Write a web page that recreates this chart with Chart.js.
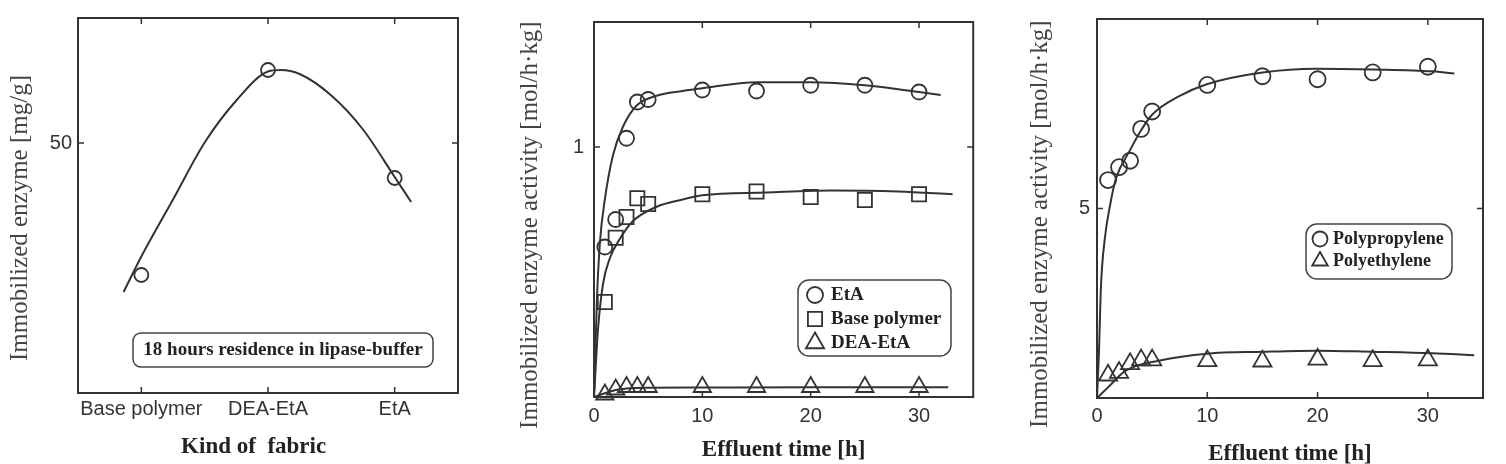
<!DOCTYPE html>
<html>
<head>
<meta charset="utf-8">
<script src="https://cdn.jsdelivr.net/npm/chart.js@4.4.1/dist/chart.umd.min.js"></script>
<style>
  html, body { margin: 0; padding: 0; background: #fff; }
  body { width: 1506px; height: 464px; position: relative; overflow: hidden; }
  canvas { position: absolute; top: 0; }
  #graphique-fibre { left: 0; }
  #graphique-eta { left: 470px; }
  #graphique-pp { left: 985px; }
</style>
</head>
<body>
<canvas id="graphique-fibre" width="470" height="464"></canvas>
<canvas id="graphique-eta" width="515" height="464"></canvas>
<canvas id="graphique-pp" width="521" height="464"></canvas>
<script>
/* global Chart */
//**DONNEES */

// Panneau 1 : enzyme immobilisée selon le type de tissu
const fabrics = ["Base polymer", "DEA-EtA", "EtA"];
const immobilized = [23.6, 64.6, 43.0];
const fabricYTicks = [50];
// courbe tracée à la main sur la figure (points relevés)
const fabricFitX = [-0.14, 0, 0.25, 0.5, 0.75, 1.0, 1.1, 1.25, 1.5, 1.75, 2.0, 2.13];
const fabricFitY = [20.2, 27.3, 38.7, 50.1, 58.5, 64.3, 64.6, 63.8, 59.5, 52.7, 43.2, 38.2];

// Panneau 2 : activité selon le temps d'écoulement
const time = [1, 2, 3, 4, 5, 10, 15, 20, 25, 30];
const fabricSeries = ["EtA", "Base polymer", "DEA-EtA"];
const etaActivity = [0.60, 0.71, 1.035, 1.18, 1.19, 1.228, 1.224, 1.247, 1.247, 1.22];
const baseActivity = [0.38, 0.637, 0.72, 0.795, 0.772, 0.811, 0.822, 0.80, 0.788, 0.811];
const deaActivity = [0.01, 0.03, 0.04, 0.04, 0.04, 0.04, 0.04, 0.04, 0.04, 0.04];
const etaFitX = [0, 0.28, 0.55, 1.0, 1.74, 2.66, 3.94, 5.78, 8.17, 10, 15, 20, 25, 30, 32];
const etaFitY = [0, 0.40, 0.62, 0.79, 0.965, 1.08, 1.166, 1.205, 1.224, 1.235, 1.259, 1.259, 1.247, 1.22, 1.208];
const baseFitX = [0, 0.37, 0.83, 1.47, 2.39, 3.58, 5.78, 8.17, 10, 15.9, 21.9, 28.1, 33.1];
const baseFitY = [0, 0.27, 0.452, 0.556, 0.633, 0.703, 0.761, 0.79, 0.807, 0.818, 0.826, 0.822, 0.811];
const deaFitX = [0, 1, 2, 3, 5, 10, 20, 30, 32.7];
const deaFitY = [0, 0.015, 0.028, 0.034, 0.037, 0.038, 0.039, 0.039, 0.039];
const timeTicks = [0, 10, 20, 30];
const etaYTicks = [1];

// Panneau 3 : polypropylène / polyéthylène
const polymerSeries = ["Polypropylene", "Polyethylene"];
const ppActivity = [5.75, 6.09, 6.26, 7.10, 7.56, 8.26, 8.49, 8.41, 8.59, 8.74];
const peActivity = [0.6, 0.67, 0.9, 1.0, 1.0, 0.98, 0.97, 1.02, 0.98, 1.0];
const ppFitX = [0, 0.18, 0.36, 0.72, 1.18, 1.72, 3.0, 3.97, 4.95, 7.5, 9.95, 15, 19.9, 25, 30.4, 32.4];
const ppFitY = [0, 1.23, 2.95, 4.23, 5.08, 5.79, 6.54, 7.05, 7.46, 7.97, 8.28, 8.59, 8.69, 8.67, 8.62, 8.56];
const peFitX = [0, 1, 2.6, 5.7, 10, 15, 20, 25, 30.4, 34.2];
const peFitY = [0, 0.28, 0.72, 0.99, 1.17, 1.22, 1.25, 1.22, 1.18, 1.13];
const ppYTicks = [5];

//**STYLE commun */
const ENCRE = "#333";
const NBSP = "\u00a0";
Chart.defaults.color = ENCRE;
Chart.defaults.font.family = "'Liberation Sans', Arial, sans-serif";
Chart.defaults.font.size = 20;

// transforme deux listes x / y en points {x, y}
function points(xs, ys) {
  return xs.map((x, i) => ({ x: x, y: ys[i] }));
}

function serieMesures(label, xs, ys, style, radius) {
  return {
    type: "scatter",
    label: label,
    data: points(xs, ys),
    pointStyle: style,
    pointRadius: radius,
    pointBorderColor: ENCRE,
    pointBackgroundColor: "rgba(0,0,0,0)",
    pointBorderWidth: 1.8,
    showLine: false,
    clip: false,
  };
}

function serieCourbe(xs, ys) {
  return {
    type: "line",
    label: "",
    data: points(xs, ys),
    borderColor: ENCRE,
    borderWidth: 2,
    pointRadius: 0,
    cubicInterpolationMode: "monotone",
    fill: false,
    clip: false,
  };
}

// cadre + graduations tournées vers l'intérieur
const cadrePlugin = {
  id: "cadre",
  afterDatasetsDraw(chart) {
    const { ctx, chartArea: a, scales } = chart;
    ctx.save();
    ctx.strokeStyle = ENCRE;
    ctx.lineWidth = 2;
    ctx.strokeRect(a.left, a.top, a.right - a.left, a.bottom - a.top);
    ctx.lineWidth = 1.5;
    ctx.beginPath();
    scales.x.ticks.forEach((t) => {
      const px = scales.x.getPixelForValue(t.value);
      ctx.moveTo(px, a.bottom);
      ctx.lineTo(px, a.bottom - 6);
      ctx.moveTo(px, a.top);
      ctx.lineTo(px, a.top + 6);
    });
    scales.y.ticks.forEach((t) => {
      const py = scales.y.getPixelForValue(t.value);
      ctx.moveTo(a.left, py);
      ctx.lineTo(a.left + 6, py);
      ctx.moveTo(a.right, py);
      ctx.lineTo(a.right - 6, py);
    });
    ctx.stroke();
    ctx.restore();
  },
};

// boîte arrondie (légende ou note) à l'intérieur du graphique
const boitePlugin = {
  id: "boite",
  afterDraw(chart, args, opts) {
    if (!opts.items) return;
    const { ctx, chartArea: a } = chart;
    const x = a.left + opts.x;
    const y = a.top + opts.y;
    ctx.save();
    ctx.strokeStyle = "#444";
    ctx.lineWidth = 1.5;
    ctx.beginPath();
    ctx.roundRect(x, y, opts.w, opts.h, opts.r);
    ctx.stroke();
    opts.items.forEach((it, i) => {
      const cy = y + opts.first + i * opts.step;
      if (it.style) {
        ctx.strokeStyle = ENCRE;
        ctx.fillStyle = "rgba(0,0,0,0)";
        ctx.lineWidth = 1.8;
        Chart.helpers.drawPoint(ctx, { pointStyle: it.style, radius: it.radius, borderWidth: 1.8, rotation: 0 }, x + opts.mx, cy);
      }
      ctx.font = opts.font;
      ctx.fillStyle = "#222";
      ctx.textBaseline = "middle";
      ctx.textAlign = opts.align || "left";
      ctx.fillText(it.text, x + opts.tx, cy);
    });
    ctx.restore();
  },
};

const titreY = { family: "'Liberation Serif', 'Times New Roman', serif", size: 25 };
const titreX = { family: "'Liberation Serif', 'Times New Roman', serif", size: 23, weight: "bold" };

// construit un panneau : tailles des axes fixées pour caler la zone de tracé
function panneau(id, cfg) {
  return new Chart(document.getElementById(id), {
    data: { datasets: cfg.datasets },
    options: {
      responsive: false,
      animation: false,
      events: [],
      layout: { padding: { left: 0, top: cfg.top, right: cfg.right, bottom: 0 } },
      plugins: {
        legend: { display: false },
        tooltip: { enabled: false },
        boite: cfg.boite,
      },
      scales: {
        x: {
          type: "linear",
          min: cfg.xMin,
          max: cfg.xMax,
          grid: { display: false, drawTicks: false },
          border: { display: false },
          afterBuildTicks: (s) => { s.ticks = cfg.xTicks.map((v) => ({ value: v })); },
          afterFit: (s) => { s.height = cfg.bottom; },
          ticks: {
            padding: cfg.xPad,
            maxRotation: 0,
            minRotation: 0,
            autoSkip: false,
            callback: cfg.xLabel || ((v) => String(v)),
          },
          title: { display: true, text: cfg.xTitle, font: titreX, color: "#222", padding: { top: 0, bottom: cfg.xTitlePad } },
        },
        y: {
          type: "linear",
          min: cfg.yMin,
          max: cfg.yMax,
          grid: { display: false, drawTicks: false },
          border: { display: false },
          afterBuildTicks: (s) => { s.ticks = cfg.yTicks.map((v) => ({ value: v })); },
          afterFit: (s) => { s.width = cfg.left; },
          ticks: { padding: cfg.yPad, callback: (v) => String(v) },
          title: { display: true, text: cfg.yTitle, font: titreY, color: "#444", padding: { top: cfg.yTitlePad, bottom: 0 } },
        },
      },
    },
    plugins: [cadrePlugin, boitePlugin],
  });
}

//**PANNEAU 1 */
panneau("graphique-fibre", {
  top: 9, right: 12, left: 78, bottom: 71,
  xMin: -0.5, xMax: 2.5, yMin: 0, yMax: 75,
  xTicks: [0, 1, 2], yTicks: fabricYTicks,
  xLabel: (v) => fabrics[v],
  xPad: 4, yPad: 6, xTitlePad: 3, yTitlePad: 5,
  xTitle: "Kind of  fabric" + NBSP.repeat(5),
  yTitle: "Immobilized enzyme [mg/g]" + NBSP.repeat(4),
  datasets: [
    serieCourbe(fabricFitX, fabricFitY),
    serieMesures("Immobilized enzyme", [0, 1, 2], immobilized, "circle", 7),
  ],
  boite: {
    x: 55, y: 315, w: 300, h: 34, r: 8, first: 17, step: 0,
    tx: 150, align: "center",
    font: "bold 19px 'Liberation Serif', serif",
    items: [{ text: "18 hours residence in lipase-buffer" }],
  },
});

//**PANNEAU 2 */
panneau("graphique-eta", {
  top: 9, right: 10, left: 124, bottom: 67,
  xMin: 0, xMax: 35, yMin: 0, yMax: 1.5,
  xTicks: timeTicks, yTicks: etaYTicks,
  xPad: 7, yPad: 10, xTitlePad: 0, yTitlePad: 45,
  xTitle: "Effluent time [h]",
  yTitle: "Immobilized enzyme activity [mol/h·kg]" + NBSP.repeat(5),
  datasets: [
    serieCourbe(etaFitX, etaFitY),
    serieCourbe(baseFitX, baseFitY),
    serieCourbe(deaFitX, deaFitY),
    serieMesures(fabricSeries[0], time, etaActivity, "circle", 7.5),
    serieMesures(fabricSeries[1], time, baseActivity, "rect", 10),
    serieMesures(fabricSeries[2], time, deaActivity, "triangle", 10),
  ],
  boite: {
    x: 204, y: 258, w: 153, h: 76, r: 11, first: 15, step: 24,
    mx: 17, tx: 33,
    font: "bold 19px 'Liberation Serif', serif",
    items: [
      { text: fabricSeries[0], style: "circle", radius: 8 },
      { text: fabricSeries[1], style: "rect", radius: 10 },
      { text: fabricSeries[2], style: "triangle", radius: 10.5 },
    ],
  },
});

//**PANNEAU 3 */
panneau("graphique-pp", {
  top: 6, right: 23, left: 112, bottom: 66,
  xMin: 0, xMax: 35, yMin: 0, yMax: 10,
  xTicks: timeTicks, yTicks: ppYTicks,
  xPad: 6, yPad: 7, xTitlePad: -4, yTitlePad: 40,
  xTitle: "Effluent time [h]",
  yTitle: "Immobilized enzyme activity [mol/h·kg]" + NBSP.repeat(5),
  datasets: [
    serieCourbe(ppFitX, ppFitY),
    serieCourbe(peFitX, peFitY),
    serieMesures(polymerSeries[0], time, ppActivity, "circle", 8),
    serieMesures(polymerSeries[1], time, peActivity, "triangle", 10.5),
  ],
  boite: {
    x: 209, y: 205, w: 146, h: 55, r: 11, first: 15, step: 22,
    mx: 14, tx: 27,
    font: "bold 18px 'Liberation Serif', serif",
    items: [
      { text: polymerSeries[0], style: "circle", radius: 7.5 },
      { text: polymerSeries[1], style: "triangle", radius: 9 },
    ],
  },
});
</script>
</body>
</html>
